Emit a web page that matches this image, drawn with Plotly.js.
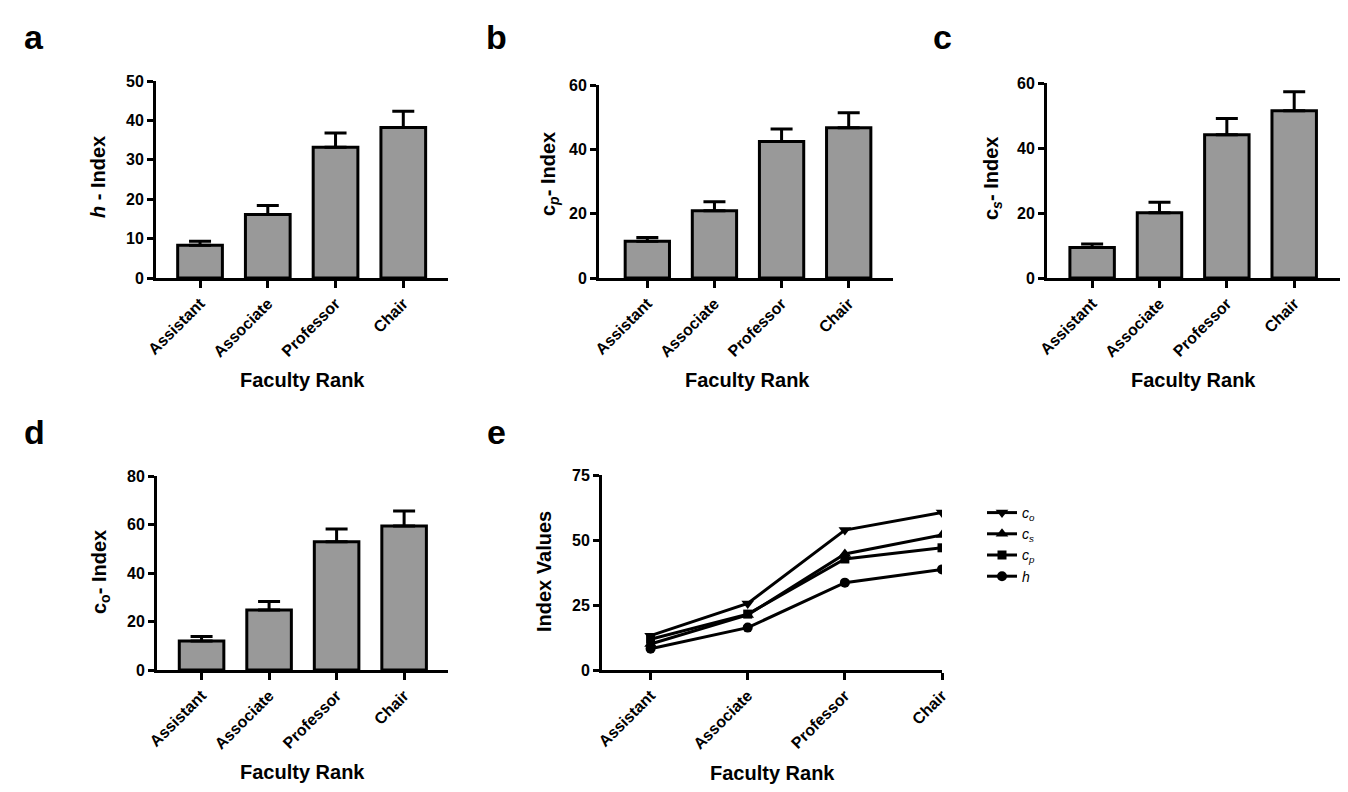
<!DOCTYPE html>
<html>
<head>
<meta charset="utf-8">
<script src="https://cdn.plot.ly/plotly-3.0.1.min.js"></script>
<style>
  html, body { margin: 0; padding: 0; background: #fff; }
  #chart { width: 1348px; height: 792px; }
</style>
</head>
<body>
<div id="chart"></div>
<script>
// ---- data ----
const categories = ['Assistant', 'Associate', 'Professor', 'Chair'];

const hMean  = [8.3, 16.1, 33.2, 38.2];
const hErr   = [1.0, 2.3, 3.6, 4.1];
const cpMean = [11.4, 20.9, 42.4, 46.7];
const cpErr  = [1.2, 2.8, 3.9, 4.7];
const csMean = [9.4, 20.1, 44.1, 51.5];
const csErr  = [1.1, 3.2, 5.0, 5.8];
const coMean = [12.0, 24.7, 52.9, 59.4];
const coErr  = [1.8, 3.5, 5.2, 6.2];

// panel e line values
const lineCo = [13.2, 25.6, 53.8, 60.6];
const lineCs = [10.0, 21.2, 44.6, 51.9];
const lineCp = [11.8, 21.5, 42.7, 47.0];
const lineH  = [8.2, 16.3, 33.6, 38.7];

const W = 1348, H = 792;
const FONT = '"Liberation Sans", Arial, sans-serif';
const px = x => x / W;
const py = y => 1 - y / H;

function barTrace(mean, err, xa, ya) {
  return {
    type: 'bar', x: categories, y: mean, xaxis: xa, yaxis: ya,
    width: 0.66, showlegend: false,
    marker: { color: '#999999', line: { color: '#000', width: 3 } },
    error_y: { type: 'data', symmetric: false, array: err, arrayminus: err.map(() => 0),
               color: '#000', thickness: 3, width: 11 }
  };
}

function lineTrace(vals, name, symbol, size) {
  return {
    type: 'scatter', mode: 'lines+markers', x: categories, y: vals,
    xaxis: 'x5', yaxis: 'y5', name: name,
    line: { color: '#000', width: 3 },
    marker: { color: '#000', symbol: symbol, size: size }
  };
}

const data = [
  barTrace(hMean, hErr, 'x', 'y'),
  barTrace(cpMean, cpErr, 'x2', 'y2'),
  barTrace(csMean, csErr, 'x3', 'y3'),
  barTrace(coMean, coErr, 'x4', 'y4'),
  lineTrace(lineCo, '<i>c<sub>o</sub></i>', 'triangle-down', 11),
  lineTrace(lineCs, '<i>c<sub>s</sub></i>', 'triangle-up', 11),
  lineTrace(lineCp, '<i>c<sub>p</sub></i>', 'square', 9),
  lineTrace(lineH, '<i>h</i>', 'circle', 10)
];

const tickFont = { family: FONT, size: 16, color: '#000', weight: 'bold' };
function xAxis(x0, x1, range, anchor) {
  return {
    domain: [px(x0), px(x1)], anchor: anchor, type: 'category', range: range,
    showline: true, linewidth: 3, linecolor: '#000', ticks: 'outside', ticklen: 7,
    tickwidth: 3, tickcolor: '#000', showgrid: false, zeroline: false,
    tickangle: -45, tickfont: tickFont, fixedrange: true
  };
}
function yAxis(yb, yt, range, dtick, anchor) {
  return {
    domain: [py(yb), py(yt)], anchor: anchor, range: range, dtick: dtick, tick0: 0,
    showline: true, linewidth: 3, linecolor: '#000', ticks: 'outside', ticklen: 6,
    tickwidth: 3, tickcolor: '#000', showgrid: false, zeroline: false,
    tickfont: tickFont, fixedrange: true
  };
}

const titleFont = { family: FONT, size: 20, color: '#000', weight: 'bold' };
function ann(text, x, y, angle, size) {
  return {
    text: text, xref: 'paper', yref: 'paper', x: px(x), y: py(y),
    xanchor: 'center', yanchor: 'middle', showarrow: false, textangle: angle || 0,
    font: Object.assign({}, titleFont, size ? { size: size } : {})
  };
}

const layout = {
  width: W, height: H,
  margin: { l: 0, r: 0, t: 0, b: 0 },
  paper_bgcolor: '#fff', plot_bgcolor: '#fff',
  font: { family: FONT, color: '#000' },
  bargap: 0.3,
  xaxis:  xAxis(156, 448, [-0.65, 3.66], 'y'),
  yaxis:  yAxis(278, 81, [0, 50], 10, 'x'),
  xaxis2: xAxis(599, 893, [-0.72, 3.66], 'y2'),
  yaxis2: yAxis(278, 85, [0, 60], 20, 'x2'),
  xaxis3: xAxis(1047, 1340, [-0.67, 3.68], 'y3'),
  yaxis3: yAxis(278, 83, [0, 60], 20, 'x3'),
  xaxis4: xAxis(157, 448, [-0.66, 3.65], 'y4'),
  yaxis4: yAxis(670, 476, [0, 80], 20, 'x4'),
  xaxis5: xAxis(602, 942, [-0.5, 3], 'y5'),
  yaxis5: yAxis(670, 475, [0, 75], 25, 'x5'),
  showlegend: true,
  legend: {
    x: px(982), y: py(497), xanchor: 'left', yanchor: 'top',
    font: { family: FONT, size: 14, color: '#000' },
    itemwidth: 30, tracegroupgap: 0, bgcolor: 'rgba(0,0,0,0)'
  },
  annotations: [
    ann('a', 34, 37, 0, 34), ann('b', 496, 37, 0, 34), ann('c', 942, 37, 0, 34),
    ann('d', 34, 432, 0, 34), ann('e', 496, 432, 0, 34),
    ann('<i>h</i> - Index', 98, 177, -90),
    ann('c<sub><i>p</i></sub>- Index', 549, 174, -90),
    ann('c<sub><i>s</i></sub>- Index', 992, 179, -90),
    ann('c<sub>o</sub>- Index', 100, 572, -90),
    ann('Index Values', 544, 572, -90),
    ann('Faculty Rank', 302, 380), ann('Faculty Rank', 748, 380), ann('Faculty Rank', 1193, 380),
    ann('Faculty Rank', 302, 772), ann('Faculty Rank', 772, 773)
  ]
};

Plotly.newPlot('chart', data, layout, { displayModeBar: false, staticPlot: true });
</script>
</body>
</html>
